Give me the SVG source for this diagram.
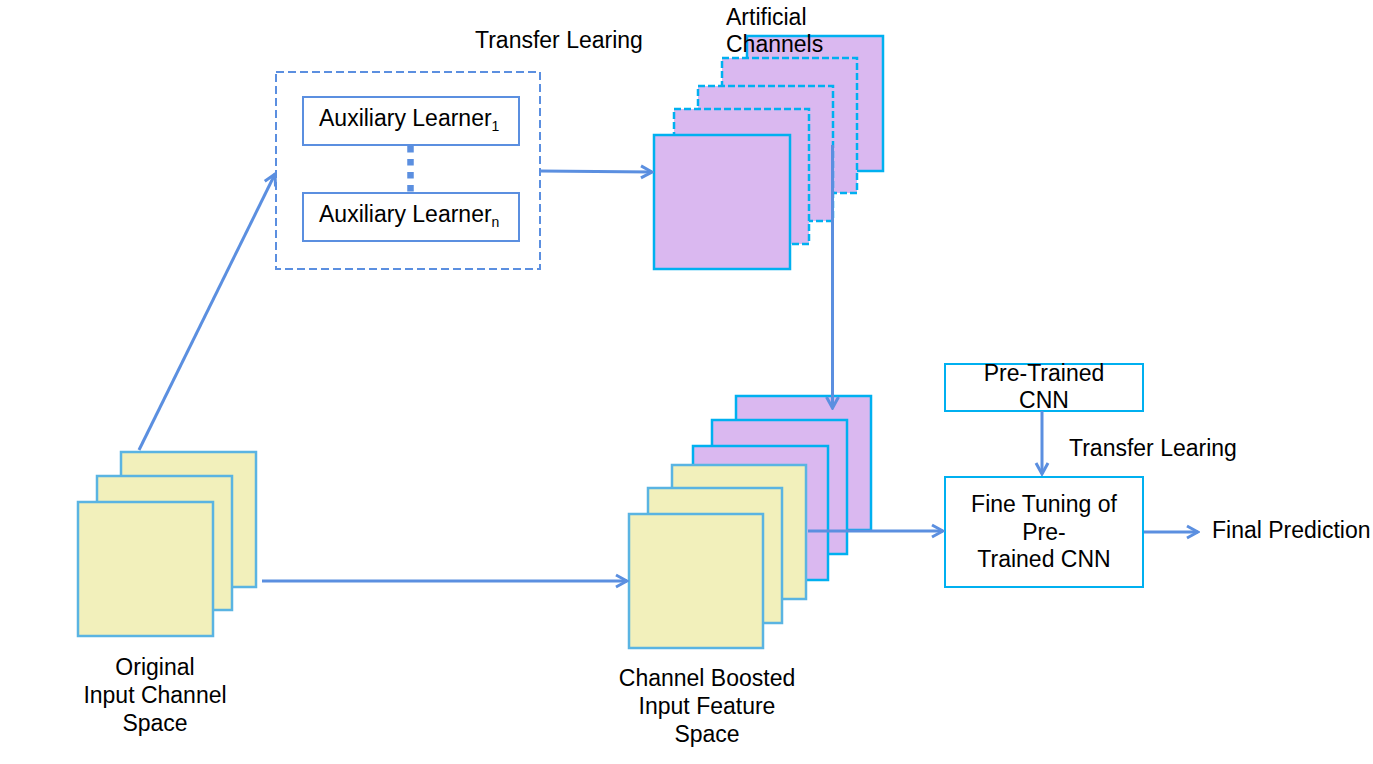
<svg xmlns="http://www.w3.org/2000/svg" width="1373" height="764" viewBox="0 0 1373 764">
<style>
text{font-family:"Liberation Sans",Arial,sans-serif;font-size:23px;fill:#000}
.c{text-anchor:middle}
.sub{font-size:14px}
.y{fill:#F2F0BB;stroke:#5AB4E2;stroke-width:2.5}
.p{fill:#DAB8F0;stroke:#00B0F0;stroke-width:2.5}
.pd{fill:#DAB8F0;stroke:#00B0F0;stroke-width:2.5;stroke-dasharray:7 3}
.box{fill:#fff;stroke:#00B0F0;stroke-width:2}
.aux{fill:#fff;stroke:#5B8FE0;stroke-width:2}
.conn{fill:none;stroke:#5B8FE0;stroke-width:3;marker-end:url(#ah)}
</style>
<defs>
<marker id="ah" viewBox="0 0 16 16" refX="14" refY="8" markerWidth="16" markerHeight="16" markerUnits="userSpaceOnUse" orient="auto">
<path d="M3,2 L14,8 L3,14" fill="none" stroke="#5B8FE0" stroke-width="3"/>
</marker>
</defs>
<rect width="1373" height="764" fill="#fff"/>

<g id="original-input">
<rect class="y" x="121" y="452" width="135" height="135"/>
<rect class="y" x="97" y="476" width="135" height="134"/>
<rect class="y" x="78" y="502" width="135" height="134"/>
<text class="c" x="155" y="675">Original</text>
<text class="c" x="155" y="703">Input Channel</text>
<text class="c" x="155" y="731">Space</text>
</g>

<g id="transfer-learning">
<rect x="276" y="72" width="264" height="197" fill="#fff" stroke="#5B8FE0" stroke-width="2" stroke-dasharray="8 4"/>
<text x="475" y="48">Transfer Learing</text>
</g>

<g id="aux-learner-1">
<rect class="aux" x="303" y="97" width="216" height="48"/>
<text x="319" y="126">Auxiliary Learner<tspan class="sub" dy="5">1</tspan></text>
</g>
<g id="aux-learner-n">
<rect class="aux" x="303" y="193" width="216" height="48"/>
<text x="319" y="222">Auxiliary Learner<tspan class="sub" dy="5">n</tspan></text>
</g>
<line x1="410.5" y1="146" x2="410.5" y2="193" stroke="#5B8FE0" stroke-width="6.5" stroke-dasharray="6.5 6.5"/>

<g id="artificial-channels">
<rect class="p" x="747" y="36" width="136" height="135"/>
<rect class="pd" x="722" y="58" width="135" height="135"/>
<rect class="pd" x="698" y="86" width="135" height="135"/>
<rect class="pd" x="674" y="109" width="135" height="135"/>
<rect class="p" x="654" y="135" width="136" height="134"/>
</g>

<g id="channel-boosted">
<rect class="p" x="736" y="396" width="135" height="134"/>
<rect class="p" x="712" y="420" width="135" height="134"/>
<rect class="p" x="693" y="446" width="135" height="134"/>
<rect class="y" x="672" y="465" width="134" height="134"/>
<rect class="y" x="648" y="488" width="134" height="135"/>
<rect class="y" x="629" y="514" width="134" height="134"/>
<text class="c" x="707" y="686">Channel Boosted</text>
<text class="c" x="707" y="714">Input Feature</text>
<text class="c" x="707" y="742">Space</text>
</g>

<g id="pretrained-cnn">
<rect class="box" x="945" y="364" width="198" height="47"/>
<text class="c" x="1044" y="381">Pre-Trained</text>
<text class="c" x="1044" y="408">CNN</text>
</g>

<g id="fine-tuning">
<rect class="box" x="945" y="477" width="198" height="110"/>
<text class="c" x="1044" y="512">Fine Tuning of</text>
<text class="c" x="1044" y="540">Pre-</text>
<text class="c" x="1044" y="567">Trained CNN</text>
</g>

<g id="connectors">
<line class="conn" x1="139" y1="450" x2="275" y2="174"/>
<line class="conn" x1="540" y1="171" x2="652" y2="172"/>
<line class="conn" x1="832.5" y1="145" x2="832.5" y2="408"/>
<line class="conn" x1="262" y1="581" x2="627" y2="581"/>
<line class="conn" x1="808" y1="531" x2="943" y2="531"/>
<line class="conn" x1="1042" y1="411" x2="1042" y2="474"/>
<line class="conn" x1="1144" y1="532" x2="1198" y2="532"/>
</g>

<g id="labels">
<text x="726" y="25">Artificial</text>
<text x="726" y="52">Channels</text>
<text x="1069" y="456">Transfer Learing</text>
<text x="1212" y="538">Final Prediction</text>
</g>
</svg>
